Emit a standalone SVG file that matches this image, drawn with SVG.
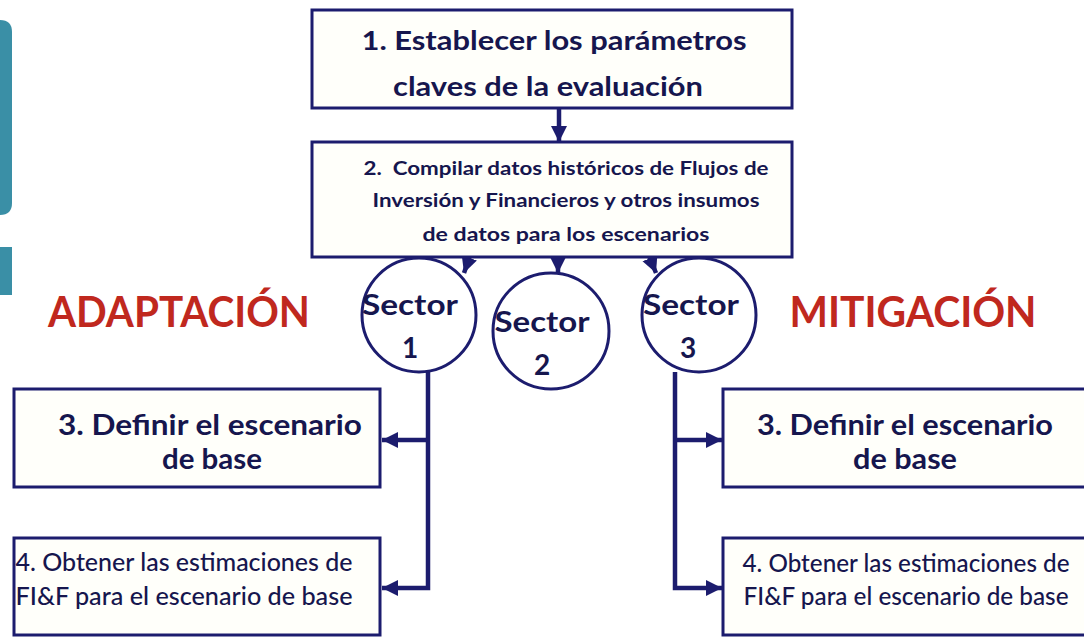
<svg xmlns="http://www.w3.org/2000/svg" width="1084" height="638" viewBox="0 0 1084 638">
<style>
.box{fill:#fffffa;stroke:#1c1c6e;stroke-width:3}
.circ{fill:#ffffff;stroke:#1c1c6e;stroke-width:3}
.con{stroke:#1c1c6e;stroke-width:4.5;fill:none}
.t{font-family:"Lato","Liberation Sans",sans-serif;fill:#16164e;text-anchor:middle}
.b{font-weight:bold}
.m{font-weight:500}
.red{font-family:"Lato","Liberation Sans",sans-serif;font-weight:bold;fill:#c0281e;text-anchor:middle}
</style>
<defs>
<marker id="ah" markerUnits="userSpaceOnUse" markerWidth="18" markerHeight="18" refX="16" refY="8" orient="auto" viewBox="0 0 18 16">
<path d="M0,0 L16,8 L0,16 Z" fill="#1c1c6e"/>
</marker>
</defs>
<rect width="1084" height="638" fill="#ffffff"/>
<g id="teal">
<path d="M0,20 Q12,20 12,32 V203 Q12,215 0,215 Z" fill="#3a8fa6"/>
<rect x="0" y="247" width="12" height="48" fill="#3a8fa6"/>
</g>
<g id="connectors">
<line class="con" x1="559" y1="108" x2="559" y2="142" marker-end="url(#ah)"/>
<line class="con" x1="558" y1="232" x2="558" y2="273" marker-end="url(#ah)"/>
<line class="con" x1="470" y1="256" x2="464" y2="273" marker-end="url(#ah)"/>
<line class="con" x1="649" y1="256" x2="656" y2="273" marker-end="url(#ah)"/>
<path class="con" d="M428,372 V588 H382" marker-end="url(#ah)"/>
<line class="con" x1="428" y1="440" x2="382" y2="440" marker-end="url(#ah)"/>
<path class="con" d="M675,372 V588 H722" marker-end="url(#ah)"/>
<line class="con" x1="675" y1="440" x2="722" y2="440" marker-end="url(#ah)"/>
</g>
<g id="box1">
<rect class="box" x="312" y="10" width="480" height="98"/>
<text class="t b" x="554" y="50" font-size="26" textLength="385" lengthAdjust="spacingAndGlyphs">1. Establecer los parámetros</text>
<text class="t b" x="548" y="96" font-size="26" textLength="310" lengthAdjust="spacingAndGlyphs">claves de la evaluación</text>
</g>
<g id="box2">
<rect class="box" x="312" y="142" width="480" height="115"/>
<text class="t b" x="566" y="175" font-size="18" textLength="405" lengthAdjust="spacingAndGlyphs" xml:space="preserve" style="white-space:pre">2.  Compilar datos históricos de Flujos de</text>
<text class="t b" x="566" y="207" font-size="18" textLength="387" lengthAdjust="spacingAndGlyphs">Inversión y Financieros y otros insumos</text>
<text class="t b" x="566" y="241" font-size="18" textLength="287" lengthAdjust="spacingAndGlyphs">de datos para los escenarios</text>
</g>
<g id="sector1">
<circle class="circ" cx="419" cy="315" r="57"/>
<text class="t b" x="410" y="315" font-size="28" textLength="96" lengthAdjust="spacingAndGlyphs">Sector</text>
<text class="t b" x="410" y="358" font-size="28">1</text>
</g>
<g id="sector2">
<circle class="circ" cx="551" cy="331" r="58"/>
<text class="t b" x="542" y="332" font-size="28" textLength="95" lengthAdjust="spacingAndGlyphs">Sector</text>
<text class="t b" x="542" y="375" font-size="28">2</text>
</g>
<g id="sector3">
<circle class="circ" cx="699" cy="315" r="57"/>
<text class="t b" x="691" y="315" font-size="28" textLength="96" lengthAdjust="spacingAndGlyphs">Sector</text>
<text class="t b" x="688" y="358" font-size="28">3</text>
</g>
<g id="adaptacion">
<text class="red" x="179" y="327" font-size="42" textLength="262" lengthAdjust="spacingAndGlyphs">ADAPTACIÓN</text>
</g>
<g id="mitigacion">
<text class="red" x="913" y="327" font-size="42" textLength="247" lengthAdjust="spacingAndGlyphs">MITIGACIÓN</text>
</g>
<g id="box3L">
<rect class="box" x="14" y="389" width="366" height="98"/>
<text class="t b" x="210" y="435" font-size="28" textLength="304" lengthAdjust="spacingAndGlyphs">3. Definir el escenario</text>
<text class="t b" x="212" y="469" font-size="28" textLength="100" lengthAdjust="spacingAndGlyphs">de base</text>
</g>
<g id="box4L">
<rect class="box" x="14" y="538" width="366" height="97"/>
<text class="t m" x="184" y="571" font-size="24" textLength="337" lengthAdjust="spacingAndGlyphs">4. Obtener las estimaciones de</text>
<text class="t m" x="184" y="605" font-size="24" textLength="337" lengthAdjust="spacingAndGlyphs">FI&amp;F para el escenario de base</text>
</g>
<g id="box3R">
<rect class="box" x="723" y="389" width="370" height="98"/>
<text class="t b" x="905" y="435" font-size="28" textLength="296" lengthAdjust="spacingAndGlyphs">3. Definir el escenario</text>
<text class="t b" x="905" y="469" font-size="28" textLength="104" lengthAdjust="spacingAndGlyphs">de base</text>
</g>
<g id="box4R">
<rect class="box" x="723" y="538" width="370" height="97"/>
<text class="t m" x="906" y="572" font-size="24" textLength="327" lengthAdjust="spacingAndGlyphs">4. Obtener las estimaciones de</text>
<text class="t m" x="906" y="605" font-size="24" textLength="325" lengthAdjust="spacingAndGlyphs">FI&amp;F para el escenario de base</text>
</g>
</svg>
